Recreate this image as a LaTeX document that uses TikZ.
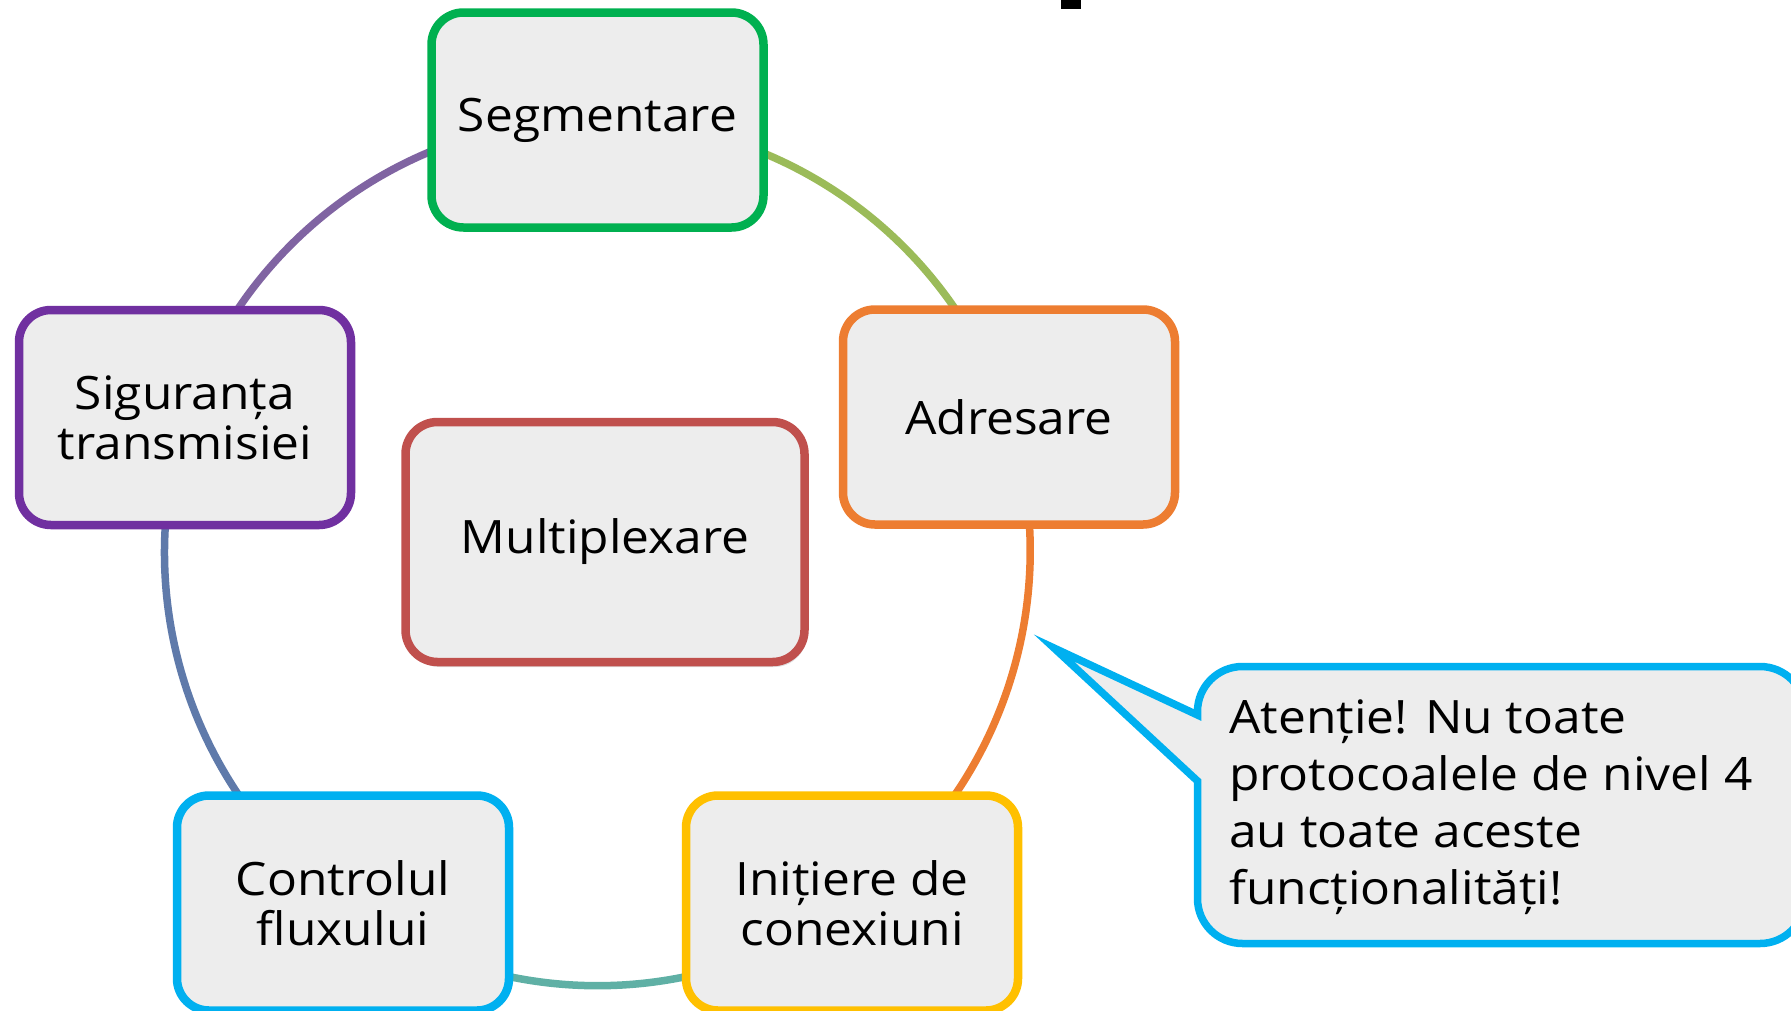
\documentclass[tikz,border=0pt]{standalone}
\usepackage{fontspec}
\setmainfont[FakeStretch=1.08]{Open Sans}
\usetikzlibrary{shadows}

\definecolor{boxfill}{HTML}{EDEDED}
\definecolor{cgreen}{HTML}{00B050}
\definecolor{corange}{HTML}{ED7D31}
\definecolor{cpurple}{HTML}{7030A0}
\definecolor{cred}{HTML}{C0504D}
\definecolor{cblue}{HTML}{00B0F0}
\definecolor{cyellow}{HTML}{FFC000}
\definecolor{ringA}{HTML}{9BBB59}
\definecolor{ringB}{HTML}{ED7D31}
\definecolor{ringC}{HTML}{5FB0A5}
\definecolor{ringD}{HTML}{5F7AAA}
\definecolor{ringE}{HTML}{8064A2}

\pgfdeclarelayer{bg}
\pgfsetlayers{bg,main}

\begin{document}
\begin{tikzpicture}[x=1pt,y=-1pt,
  box/.style={draw, line width=8.5pt, fill=boxfill, rounded corners=32pt,
    minimum width=332pt, minimum height=215pt, inner sep=0pt,
    align=center, font=\fontsize{46}{50}\selectfont},
  bigbox/.style={box, minimum width=399pt, minimum height=240pt},
  ring/.style={line width=7.5pt},
  bubble/.style={draw=cblue, line width=7.5pt, fill=boxfill},
  note/.style={inner sep=0pt, align=left, font=\fontsize{46}{57}\selectfont}]

\useasboundingbox (0,0) rectangle (1791,1010);
\clip (0,0) rectangle (1791,1010);

% cycle items, placed on a circle of radius 433 around (597.5,551)
\node[box, draw=cgreen]  (seg) at (597.5,120) {Segmentare};
\node[box, draw=corange] (adr) at (1009,417) {Adresare};
\node[box, draw=cyellow] (ini) at (852,903) {Inițiere de\\conexiuni};
\node[box, draw=cblue]   (ctl) at (343,903) {Controlul\\fluxului};
\node[box, draw=cpurple] (sig) at (185,417.5) {Siguranța\\transmisiei};

% centre item
\node[bigbox, draw=cred,
  drop shadow={shadow xshift=2pt, shadow yshift=-5pt, opacity=0.25}]
  (mux) at (605,542) {Multiplexare};

% ring segments between neighbouring items
\begin{pgfonlayer}{bg}
  \draw[ring, ringA] (seg.center) arc[start angle=-90, end angle=-18, radius=433];
  \draw[ring, ringB] (adr.center) arc[start angle=-18, end angle=54, radius=433];
  \draw[ring, ringC] (ini.center) arc[start angle=54, end angle=126, radius=433];
  \draw[ring, ringD] (ctl.center) arc[start angle=126, end angle=198, radius=433];
  \draw[ring, ringE] (sig.center) arc[start angle=198, end angle=270, radius=433];
\end{pgfonlayer}

% speech bubble with its pointer
\coordinate (tip) at (1054,648);
\draw[bubble] (1197.5,781) [rounded corners=45pt] -- (1197.5,943.5) -- (1805,943.5)
  -- (1805,666.5) -- (1197.5,666.5) [sharp corners] -- (1197.5,715) -- (tip) -- cycle;
\node[note, anchor=north west] (warn) at (1229,700)
  {Atenție! Nu toate\\protocoalele de nivel 4\\au toate aceste\\funcționalități!};

% edge of a title cut off at the top
\fill[black] (1061,0) rectangle (1081,9);

\end{tikzpicture}
\end{document}
